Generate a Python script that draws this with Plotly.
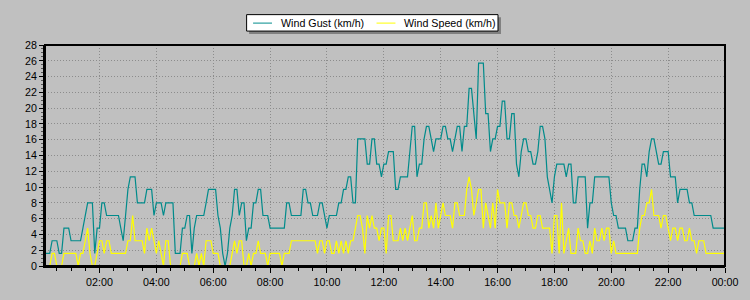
import plotly.graph_objects as go
import pandas as pd

# 5-minute readings from 00:05 to 24:00, one row per hour
gust_kmh = [
    1.6, 1.6, 1.6, 3.2, 3.2, 3.2, 1.6, 1.6, 4.8, 4.8, 4.8, 3.2,
    3.2, 3.2, 3.2, 3.2, 4.8, 6.4, 8.0, 8.0, 8.0, 1.6, 4.8, 4.8,
    8.0, 8.0, 6.4, 6.4, 6.4, 6.4, 6.4, 6.4, 4.8, 3.2, 6.4, 9.7,
    11.3, 11.3, 11.3, 8.0, 8.0, 8.0, 8.0, 9.7, 9.7, 9.7, 6.4, 8.0,
    8.0, 8.0, 6.4, 8.0, 8.0, 8.0, 8.0, 1.6, 1.6, 1.6, 4.8, 4.8,
    6.4, 6.4, 1.6, 4.8, 6.4, 6.4, 6.4, 6.4, 8.0, 9.7, 9.7, 9.7,
    9.7, 6.4, 4.8, 1.6, 0.0, 1.6, 4.8, 6.4, 9.7, 9.7, 6.4, 8.0,
    8.0, 3.2, 4.8, 4.8, 8.0, 8.0, 9.7, 9.7, 6.4, 6.4, 6.4, 4.8,
    4.8, 4.8, 4.8, 4.8, 4.8, 4.8, 8.0, 8.0, 6.4, 6.4, 6.4, 6.4,
    6.4, 9.7, 9.7, 8.0, 8.0, 6.4, 6.4, 6.4, 8.0, 8.0, 6.4, 4.8,
    6.4, 6.4, 6.4, 6.4, 8.0, 8.0, 9.7, 9.7, 11.3, 11.3, 8.0, 8.0,
    16.1, 16.1, 16.1, 16.1, 12.9, 12.9, 16.1, 16.1, 12.9, 12.9, 11.3, 12.9,
    12.9, 14.5, 14.5, 14.5, 9.7, 9.7, 11.3, 11.3, 11.3, 11.3, 14.5, 17.7,
    17.7, 11.3, 12.9, 12.9, 16.1, 17.7, 17.7, 16.1, 14.5, 16.1, 16.1, 16.1,
    17.7, 17.7, 16.1, 16.1, 14.5, 16.1, 17.7, 17.7, 14.5, 17.7, 17.7, 22.5,
    22.5, 19.3, 16.1, 25.7, 25.7, 25.7, 19.3, 19.3, 14.5, 16.1, 16.1, 17.7,
    17.7, 20.9, 20.9, 16.1, 16.1, 19.3, 19.3, 12.9, 11.3, 14.5, 16.1, 16.1,
    14.5, 14.5, 12.9, 12.9, 14.5, 17.7, 17.7, 16.1, 11.3, 9.7, 8.0, 11.3,
    12.9, 12.9, 12.9, 12.9, 11.3, 12.9, 12.9, 8.0, 8.0, 11.3, 11.3, 11.3,
    11.3, 4.8, 8.0, 8.0, 11.3, 11.3, 11.3, 11.3, 11.3, 11.3, 11.3, 8.0,
    6.4, 6.4, 4.8, 4.8, 4.8, 4.8, 3.2, 3.2, 3.2, 4.8, 4.8, 9.7,
    12.9, 12.9, 11.3, 14.5, 16.1, 16.1, 14.5, 12.9, 12.9, 14.5, 14.5, 14.5,
    11.3, 11.3, 11.3, 8.0, 9.7, 9.7, 9.7, 9.7, 8.0, 8.0, 6.4, 6.4,
    6.4, 6.4, 6.4, 6.4, 6.4, 6.4, 4.8, 4.8, 4.8, 4.8, 4.8, 4.8,
]

speed_kmh = [
    0.0, 0.0, 0.0, 1.6, 1.6, 0.0, 0.0, 0.0, 1.6, 1.6, 1.6, 1.6,
    1.6, 1.6, 0.0, 1.6, 1.6, 3.2, 4.8, 1.6, 0.0, 0.0, 1.6, 3.2,
    3.2, 1.6, 3.2, 3.2, 1.6, 1.6, 1.6, 1.6, 1.6, 1.6, 1.6, 3.2,
    3.2, 6.4, 3.2, 3.2, 3.2, 3.2, 1.6, 4.8, 3.2, 4.8, 3.2, 1.6,
    3.2, 1.6, 0.0, 3.2, 3.2, 0.0, 0.0, 0.0, 0.0, 0.0, 1.6, 1.6,
    1.6, 0.0, 0.0, 0.0, 1.6, 0.0, 1.6, 0.0, 3.2, 3.2, 3.2, 1.6,
    1.6, 1.6, 0.0, 0.0, 0.0, 0.0, 0.0, 1.6, 3.2, 1.6, 3.2, 3.2,
    0.0, 0.0, 1.6, 0.0, 1.6, 1.6, 3.2, 1.6, 1.6, 1.6, 0.0, 1.6,
    1.6, 1.6, 1.6, 1.6, 0.0, 1.6, 1.6, 1.6, 3.2, 3.2, 3.2, 3.2,
    3.2, 3.2, 3.2, 3.2, 3.2, 3.2, 3.2, 1.6, 3.2, 3.2, 1.6, 3.2,
    3.2, 1.6, 1.6, 3.2, 1.6, 3.2, 1.6, 3.2, 1.6, 3.2, 3.2, 4.8,
    6.4, 6.4, 4.8, 1.6, 6.4, 4.8, 6.4, 4.8, 4.8, 3.2, 4.8, 4.8,
    1.6, 6.4, 6.4, 3.2, 3.2, 3.2, 4.8, 3.2, 4.8, 3.2, 4.8, 6.4,
    3.2, 3.2, 4.8, 4.8, 8.0, 8.0, 4.8, 6.4, 4.8, 8.0, 4.8, 6.4,
    8.0, 6.4, 6.4, 6.4, 4.8, 8.0, 8.0, 6.4, 6.4, 6.4, 9.7, 11.3,
    9.7, 6.4, 8.0, 9.7, 9.7, 4.8, 8.0, 6.4, 4.8, 8.0, 4.8, 9.7,
    8.0, 8.0, 8.0, 4.8, 8.0, 8.0, 6.4, 6.4, 4.8, 6.4, 8.0, 8.0,
    6.4, 6.4, 4.8, 4.8, 6.4, 6.4, 4.8, 4.8, 4.8, 4.8, 1.6, 6.4,
    6.4, 1.6, 8.0, 1.6, 3.2, 4.8, 1.6, 1.6, 1.6, 4.8, 3.2, 3.2,
    1.6, 1.6, 3.2, 1.6, 4.8, 3.2, 3.2, 4.8, 3.2, 4.8, 4.8, 1.6,
    3.2, 1.6, 1.6, 1.6, 1.6, 1.6, 1.6, 1.6, 1.6, 1.6, 1.6, 4.8,
    6.4, 6.4, 8.0, 8.0, 9.7, 6.4, 6.4, 6.4, 4.8, 6.4, 6.4, 4.8,
    3.2, 4.8, 4.8, 3.2, 4.8, 4.8, 3.2, 3.2, 4.8, 3.2, 3.2, 1.6,
    3.2, 3.2, 3.2, 1.6, 1.6, 1.6, 1.6, 1.6, 1.6, 1.6, 1.6, 1.6,
]

series_names = ["Wind Gust (km/h)", "Wind Speed (km/h)"]
series_colors = ["#008B8B", "#FFFF00"]
y_ticks = list(range(0, 29, 2))

times = pd.date_range("2024-01-01 00:05", periods=len(gust_kmh), freq="5min")

W, H = 750, 300
ML, MR, MT, MB = 45, 22, 45, 33
PW, PH = W - ML - MR, H - MT - MB


def px(x):
    return (x - ML) / PW


def py(y):
    return (H - MB - y) / PH


FONT = "Liberation Sans, Arial, sans-serif"
GRID = dict(showgrid=True, gridcolor="#8c8c8c", griddash="1px,2px", gridwidth=1)

fig = go.Figure()
for vals, name, col in zip([gust_kmh, speed_kmh], series_names, series_colors):
    fig.add_trace(go.Scatter(x=times, y=vals, mode="lines", name=name,
                             line=dict(color=col, width=1.2), showlegend=False))

fig.update_layout(
    width=W, height=H,
    margin=dict(l=ML, r=MR, t=MT, b=MB, pad=0),
    paper_bgcolor="#C0C0C0", plot_bgcolor="#C0C0C0",
    font=dict(family=FONT, size=10.7, color="#000000"),
)

fig.update_xaxes(
    type="date",
    range=["2024-01-01 00:05", "2024-01-02 00:00"],
    tick0="2024-01-01 00:00", dtick=2 * 3600 * 1000,
    tickformat="%H:%M",
    **GRID,
    showline=True, linecolor="#000000", linewidth=2,
    ticks="outside", ticklen=5, tickcolor="#000000", tickwidth=1,
    minor=dict(dtick=30 * 60 * 1000, tick0="2024-01-01 00:00", ticks="outside",
               ticklen=3, tickcolor="#000000", showgrid=False),
    zeroline=False,
    tickfont=dict(family=FONT, size=10.7, color="#000000"),
)
fig.update_yaxes(
    range=[0, 28],
    tickvals=y_ticks,
    **GRID,
    showline=True, linecolor="#000000", linewidth=2,
    ticks="outside", ticklen=4, tickcolor="#000000", tickwidth=1,
    minor=dict(dtick=0.5, ticks="outside", ticklen=2, tickcolor="#555555", showgrid=False),
    zeroline=False,
    tickfont=dict(family=FONT, size=10.7, color="#000000"),
)

shapes = [
    # plot frame
    dict(type="rect", xref="paper", yref="paper", x0=0, x1=1, y0=0, y1=1,
         line=dict(color="#000000", width=2), layer="above"),
    # legend shadow
    dict(type="rect", xref="paper", yref="paper",
         x0=px(250), x1=px(503), y0=py(34), y1=py(17),
         fillcolor="#808080", line=dict(width=0)),
    # legend box
    dict(type="rect", xref="paper", yref="paper",
         x0=px(247.5), x1=px(500), y0=py(31), y1=py(14.5),
         fillcolor="#FFFFFF", line=dict(color="#000000", width=1)),
]
legend_layout = [(254, 273, 280), (378, 397, 404)]
annotations = []
for (lx0, lx1, tx), name, col in zip(legend_layout, series_names, series_colors):
    shapes.append(dict(type="line", xref="paper", yref="paper",
                       x0=px(lx0), x1=px(lx1), y0=py(23), y1=py(23),
                       line=dict(color=col, width=1)))
    annotations.append(dict(xref="paper", yref="paper", x=px(tx), y=py(23),
                            text=name, showarrow=False, xanchor="left", yanchor="middle",
                            font=dict(family=FONT, size=10.7, color="#000000")))
fig.update_layout(shapes=shapes, annotations=annotations)

fig.write_html("out.html")
